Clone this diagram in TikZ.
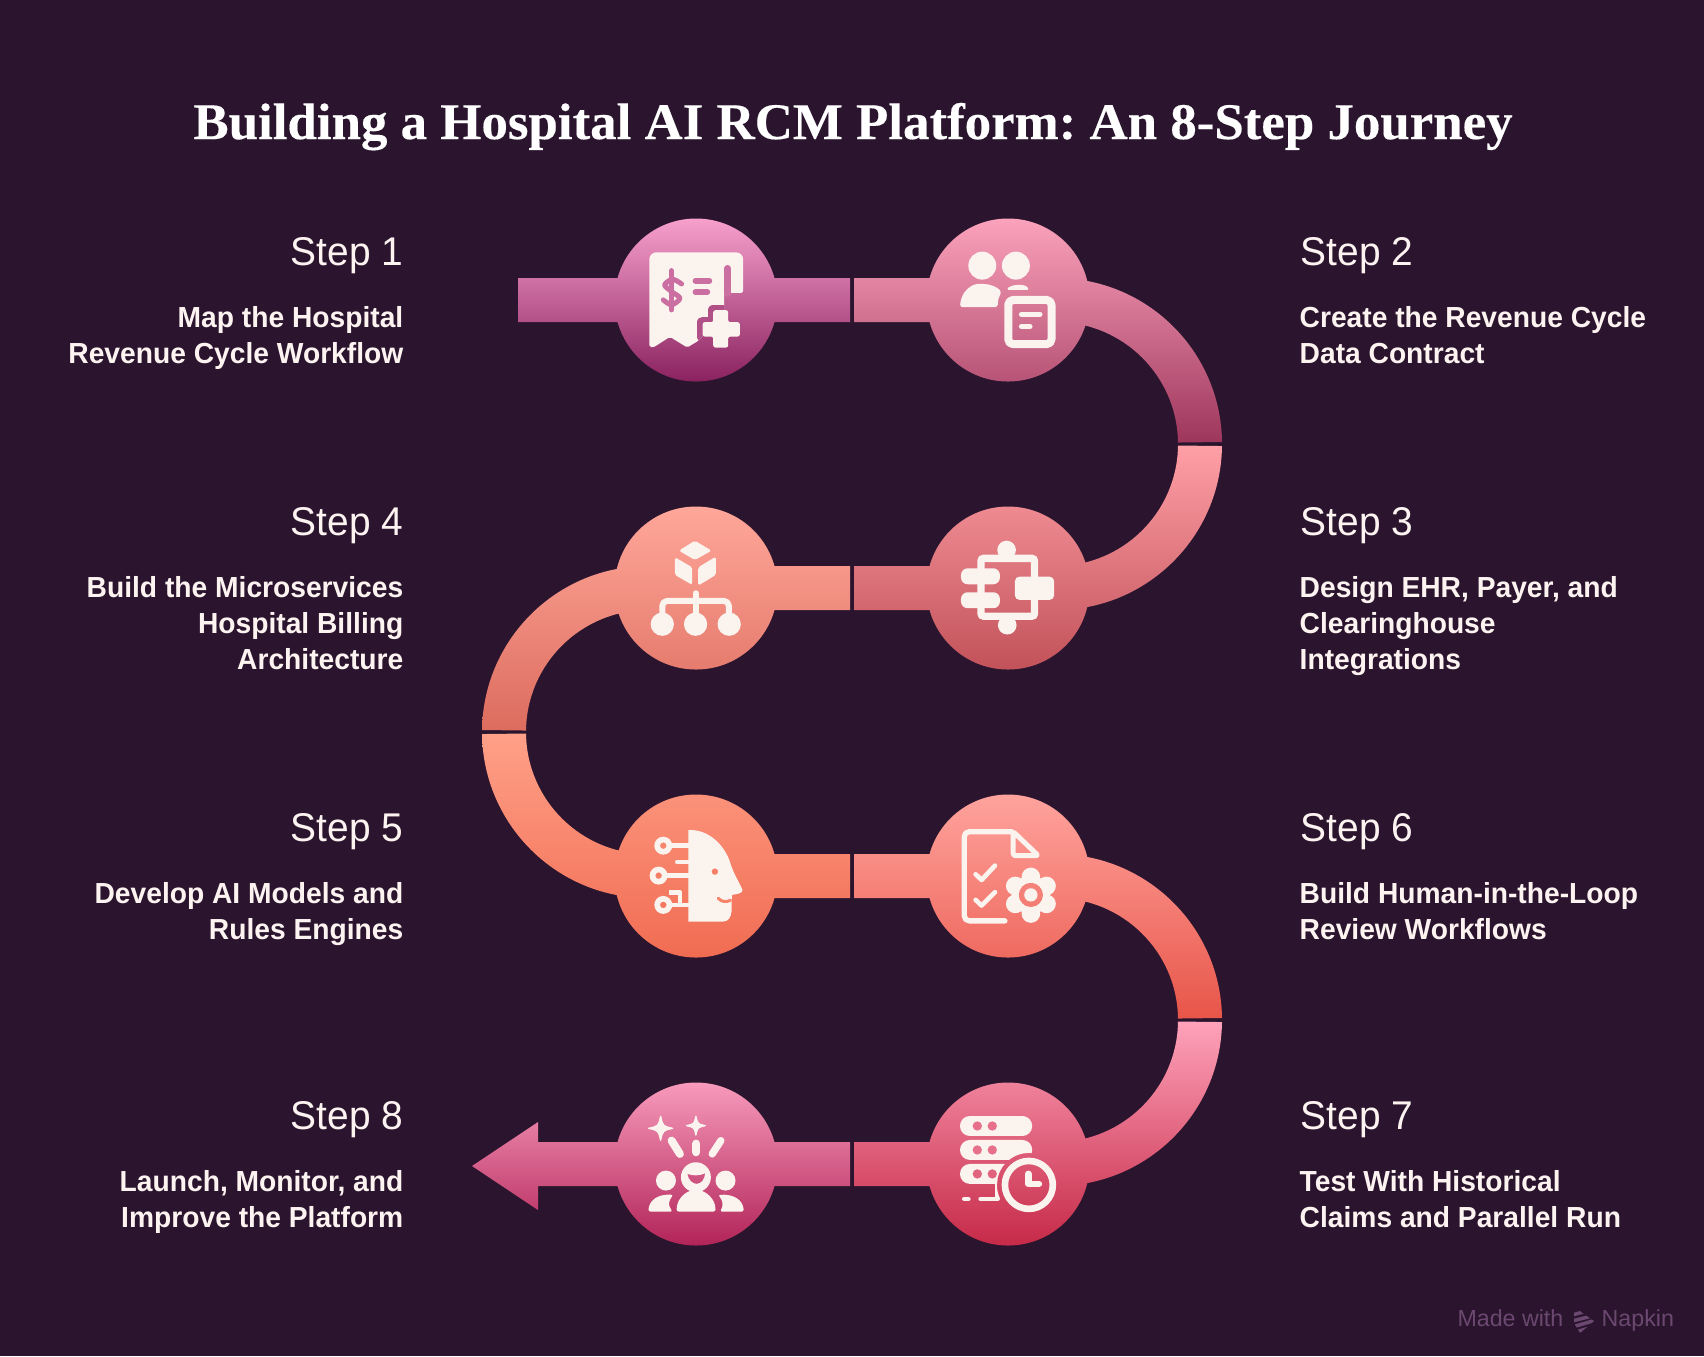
\documentclass[tikz,border=0pt]{standalone}
\usepackage{fontspec}
\usepackage{xcolor}
\usetikzlibrary{positioning}
\setmainfont{Liberation Sans}
\newfontfamily\titlefont[FakeStretch=1.03,BoldFeatures={FakeBold=0.3}]{Liberation Serif}
\newfontfamily\labelfont[FakeStretch=0.97]{Liberation Sans}
\newfontfamily\descfont[FakeStretch=0.972]{Liberation Sans}
\definecolor{pagebg}{HTML}{2B152E}
\definecolor{inkwhite}{HTML}{FDF3F1}
\definecolor{iconcream}{HTML}{FAF3EE}
\definecolor{brandink}{HTML}{6B4870}
\definecolor{oneTop}{HTML}{F7A0CC}\definecolor{oneBot}{HTML}{8A2260}
\definecolor{twoTop}{HTML}{FBA2BC}\definecolor{twoBot}{HTML}{9E365C}
\definecolor{threeTop}{HTML}{FF9FA6}\definecolor{threeBot}{HTML}{C2525A}
\definecolor{fourTop}{HTML}{FFA79A}\definecolor{fourBot}{HTML}{DC6C5E}
\definecolor{fiveTop}{HTML}{FFA088}\definecolor{fiveBot}{HTML}{F06C52}
\definecolor{sixTop}{HTML}{FFA39D}\definecolor{sixBot}{HTML}{E85549}
\definecolor{sevenTop}{HTML}{FFA2BA}\definecolor{sevenBot}{HTML}{C62A48}
\definecolor{eightTop}{HTML}{F79ABB}\definecolor{eightBot}{HTML}{B22458}
% path pieces, all wound the same way
\newcommand{\hubdisc}[2]{({#1+81.5},#2) arc[start angle=0,end angle=360,radius=81.5]}
\newcommand{\hubbar}[3]{(#1,{#3-22}) -- (#2,{#3-22}) -- (#2,{#3+22}) -- (#1,{#3+22}) -- cycle}
\newcommand{\hubsweep}[4]{({#1+166*cos(#3)},{#2+166*sin(#3)}) arc[start angle=#3,end angle=#4,radius=166] -- ({#1+122*cos(#4)},{#2+122*sin(#4)}) arc[start angle=#4,end angle=#3,radius=122] -- cycle}
\newcommand{\sparkle}[3]{(#1,{#2-#3}) .. controls ({#1+.18*#3},{#2-.18*#3}) .. ({#1+#3},#2) .. controls ({#1+.18*#3},{#2+.18*#3}) .. (#1,{#2+#3}) .. controls ({#1-.18*#3},{#2+.18*#3}) .. ({#1-#3},#2) .. controls ({#1-.18*#3},{#2-.18*#3}) .. (#1,{#2-#3}) -- cycle}
\begin{document}
\frenchspacing
\begin{tikzpicture}[
        x=0.01cm, y=-0.01cm,
        titletext/.style={font=\titlefont\bfseries\fontsize{14.6}{17}\selectfont, text=white, inner sep=0pt, anchor=base},
        steplabel/.style={font=\labelfont\fontsize{11.4}{14}\selectfont, text=inkwhite, inner sep=0pt},
        stepdesc/.style={font=\descfont\bfseries\fontsize{8.25}{10.24}\selectfont, text=inkwhite, inner sep=0pt},
        leftside/.style={anchor=base east, align=right},
        rightside/.style={anchor=base west, align=left},
        iconview/.style 2 args={shift={(#1,#2)}, x=0.003333cm, y=-0.003333cm},
        iconline/.style={draw=iconcream, line width=#1*0.0948pt, line cap=round, line join=round},
        holeline/.style={draw=iconhole, line width=#1*0.0948pt, line cap=round, line join=round},
    ]
    \useasboundingbox (0,0) rectangle (1704,1356);
    \fill[pagebg] (0,0) rectangle (1704,1356);

    % Title
    \node[titletext] (heading) at (853,139) {Building a Hospital AI RCM Platform: An 8-Step Journey};

    % Path segments
    \shade[top color=oneTop, bottom color=oneBot] \hubdisc{696}{300} \hubbar{518}{850}{300};
    \shade[top color=twoTop, bottom color=twoBot] \hubdisc{1008}{300} \hubbar{854}{1056}{300} \hubsweep{1056}{444}{-90}{-0.7};
    \shade[top color=threeTop, bottom color=threeBot] \hubdisc{1008}{588} \hubbar{854}{1056}{588} \hubsweep{1056}{444}{0.7}{90};
    \shade[top color=fourTop, bottom color=fourBot] \hubdisc{696}{588} \hubbar{648}{850}{588} \hubsweep{648}{732}{180.7}{270};
    \shade[top color=fiveTop, bottom color=fiveBot] \hubdisc{696}{876} \hubbar{648}{850}{876} \hubsweep{648}{732}{90}{179.3};
    \shade[top color=sixTop, bottom color=sixBot] \hubdisc{1008}{876} \hubbar{854}{1056}{876} \hubsweep{1056}{1020}{-90}{-0.7};
    \shade[top color=sevenTop, bottom color=sevenBot] \hubdisc{1008}{1164} \hubbar{854}{1056}{1164} \hubsweep{1056}{1020}{0.7}{90};
    \shade[top color=eightTop, bottom color=eightBot] \hubdisc{696}{1164}
        (472,1166) -- (538,1122) -- (538,1142) -- (850,1142) -- (850,1186) -- (538,1186) -- (538,1210) -- cycle;

    % Icon 1: receipt with plus
    \begin{scope}[iconview={630}{235}]
        \path[fill=iconcream, rounded corners=0.5pt] (58,336) [rounded corners=2pt] -- (58,52) -- (340,52) [rounded corners=0.5pt] -- (340,174) -- (283,174) -- (283,240) -- (205,318) -- (172,338) -- (120,306) -- (70,338) -- cycle;
        \colorlet{iconhole}{oneTop!60!oneBot}
        \draw[holeline=20] (293,100) -- (293,176);
        \draw[holeline=15] (125,107) -- (125,225);
        \draw[holeline=15] plot[smooth] coordinates {(155,147) (128,133) (104,150) (125,170) (150,190) (125,210) (100,195)};
        \draw[holeline=18] (197,137) -- (238,137);
        \draw[holeline=18] (197,172) -- (232,172);
        \begin{scope}
            \clip (58,338) -- (58,52) -- (283,52) -- (283,240) -- (205,318) -- (172,338) -- cycle;
            \colorlet{iconhole}{oneTop!36!oneBot}
            \draw[holeline=34] (250,226) -- (295,226) -- (295,262) -- (330,262) -- (330,305) -- (295,305) -- (295,338) -- (250,338) -- (250,305) -- (218,305) -- (218,262) -- (250,262) -- cycle;
        \end{scope}
        \fill[iconcream, rounded corners=0.6pt] (250,226) -- (295,226) -- (295,262) -- (330,262) -- (330,305) -- (295,305) -- (295,338) -- (250,338) -- (250,305) -- (218,305) -- (218,262) -- (250,262) -- cycle;
    \end{scope}

    % Icon 2: people with document
    \begin{scope}[iconview={945}{235}]
        \fill[iconcream] (112,92) circle[radius=42] (213,92) circle[radius=42];
        \fill[iconcream, rounded corners=0.8pt] (45,217) .. controls (48,170) and (80,147) .. (108,147) .. controls (135,147) and (158,157) .. (170,172) -- (160,190) -- (158,217) -- cycle;
        \fill[iconcream, rounded corners=0.5pt] (185,165) .. controls (195,150) and (240,142) .. (253,165) -- cycle;
        \draw[iconline=24, rounded corners=1.4pt] (190,195) rectangle (320,328);
        \draw[iconline=16] (230,238) -- (285,238);
        \draw[iconline=16] (230,275) -- (255,275);
    \end{scope}

    % Icon 3: integration blocks
    \begin{scope}[iconview={945}{525}]
        \draw[iconcream, line width=2.1pt, rounded corners=0.8pt] (108,100) rectangle (269,274);
        \fill[iconcream] (185,75) circle[radius=28] (187,301) circle[radius=28];
        \fill[iconcream, rounded corners=1.9pt] (48,130) rectangle (165,178);
        \fill[iconcream, rounded corners=1.9pt] (48,202) rectangle (165,250);
        \fill[iconcream, rounded corners=1.3pt] (210,155) rectangle (328,225);
    \end{scope}

    % Icon 4: cube over tree
    \begin{scope}[iconview={630}{525}]
        \fill[iconcream, rounded corners=0.5pt] (195,47) -- (245,77) -- (195,105) -- (147,77) -- cycle;
        \fill[iconcream, rounded corners=0.5pt] (135,97) -- (187,127) -- (187,180) -- (135,150) -- cycle;
        \fill[iconcream, rounded corners=0.5pt] (258,95) -- (205,127) -- (205,182) -- (258,150) -- cycle;
        \draw[iconline=18] (197,205) -- (197,275);
        \draw[iconline=18, rounded corners=1.4pt] (97,275) -- (97,228) -- (297,228) -- (297,275);
        \fill[iconcream] (97,298) circle[radius=35] (197,298) circle[radius=35] (298,298) circle[radius=35];
    \end{scope}

    % Icon 5: head with circuit
    \begin{scope}[iconview={630}{815}]
        \fill[iconcream, even odd rule] (175,45) .. controls (240,42) and (285,95) .. (300,140) .. controls (310,175) and (330,205) .. (338,225) .. controls (340,235) and (320,238) .. (306,240) -- (305,290) .. controls (303,308) and (295,320) .. (280,320) -- (175,320) -- cycle (255,170) circle[radius=10];
        \colorlet{iconhole}{fiveTop!45!fiveBot}
        \draw[holeline=9] (265,250) .. controls (275,262) and (290,262) .. (302,256);
        \fill[iconcream, even odd rule] (100,92) circle[radius=27] (100,92) circle[radius=10];
        \fill[iconcream, even odd rule] (86,182) circle[radius=27] (86,182) circle[radius=10];
        \fill[iconcream, even odd rule] (100,270) circle[radius=27] (100,270) circle[radius=10];
        \draw[iconline=14, line cap=butt] (125,92) -- (178,92);
        \draw[iconline=14, line cap=butt] (110,182) -- (178,182);
        \draw[iconline=14, line cap=butt] (125,270) -- (178,270);
        \draw[iconline=14] (142,141) -- (178,141);
        \draw[iconline=14, line cap=butt] (118,232) -- (150,232) -- (150,264);
    \end{scope}

    % Icon 6: checklist with gear
    \begin{scope}[iconview={945}{815}]
        \draw[iconline=16, rounded corners=1.4pt] (180,318) -- (58,318) -- (58,50) -- (200,50);
        \draw[iconline=15, rounded corners=0.6pt] (205,50) -- (205,122) -- (280,122) -- cycle;
        \draw[iconline=14] (92,178) -- (110,195) -- (150,152);
        \draw[iconline=14] (92,255) -- (110,272) -- (150,232);
        \begin{scope}[even odd rule]
            \clip (-100,-100) rectangle (500,500) (258,240) circle[radius=37];
            \fill[iconcream, nonzero rule] (258,240) circle[radius=58];
            \fill[iconcream, nonzero rule] (258,186) circle[radius=28] (305,213) circle[radius=28] (305,267) circle[radius=28] (258,296) circle[radius=28] (211,267) circle[radius=28] (211,213) circle[radius=28];
        \end{scope}
        \fill[iconcream] (258,240) circle[radius=20];
    \end{scope}

    % Icon 7: server with clock
    \begin{scope}[iconview={945}{1100}]
        \begin{scope}[even odd rule]
            \clip (-100,-100) rectangle (500,500) (252,255) circle[radius=96];
            \fill[iconcream, rounded corners=2.8pt] (45,48) rectangle (262,108);
            \fill[iconcream, rounded corners=2.8pt] (45,120) rectangle (262,180);
            \fill[iconcream, rounded corners=2.8pt] (45,192) rectangle (262,252);
            \draw[iconline=14] (107,297) -- (158,297) -- (158,245);
        \end{scope}
        \draw[iconline=14] (58,297) -- (70,297);
        \colorlet{iconhole}{sevenTop!58!sevenBot}
        \fill[iconhole] (97,78) circle[radius=14] (142,78) circle[radius=14] (97,150) circle[radius=14] (142,150) circle[radius=14];
        \colorlet{iconhole}{sevenTop!48!sevenBot}
        \fill[iconhole] (97,222) circle[radius=14] (142,222) circle[radius=14];
        \fill[iconcream, even odd rule] (252,255) circle[radius=82] (252,255) circle[radius=62];
        \draw[iconline=20] (250,222) -- (250,252) -- (282,252);
    \end{scope}

    % Icon 8: cheering team
    \begin{scope}[iconview={630}{1100}]
        \fill[iconcream] \sparkle{92}{85}{38};
        \draw[iconline=4] \sparkle{92}{85}{36};
        \fill[iconcream] \sparkle{198}{77}{30};
        \draw[iconline=4] \sparkle{198}{77}{28};
        \draw[iconline=24] (125,122) -- (150,162);
        \draw[iconline=24] (199,131) -- (199,157);
        \draw[iconline=22] (273,122) -- (247,162);
        \fill[iconcream, even odd rule] (198,232) circle[radius=45] (172,222) .. controls (190,228) and (208,228) .. (226,220) .. controls (222,262) and (180,262) .. (172,222) -- cycle;
        \fill[iconcream, rounded corners=0.6pt] (140,335) .. controls (140,295) and (170,272) .. (198,270) .. controls (226,272) and (257,295) .. (257,335) -- cycle;
        \fill[iconcream] (108,242) circle[radius=30] (287,242) circle[radius=30];
        \fill[iconcream, rounded corners=0.6pt] (55,335) .. controls (58,300) and (85,282) .. (130,285) .. controls (118,300) and (112,315) .. (128,335) -- cycle;
        \fill[iconcream, rounded corners=0.6pt] (342,335) .. controls (339,300) and (312,282) .. (265,285) .. controls (277,300) and (283,315) .. (270,335) -- cycle;
    \end{scope}

    % Left labels
    \node[steplabel, leftside] (labelone) at (404,265) {Step 1};
    \node[stepdesc, leftside] (descone) at (404,363) {Map the Hospital\\Revenue Cycle Workflow};
    \node[steplabel, leftside] (labelfour) at (404,535) {Step 4};
    \node[stepdesc, leftside] (descfour) at (404,669) {Build the Microservices\\Hospital Billing\\Architecture};
    \node[steplabel, leftside] (labelfive) at (404,841) {Step 5};
    \node[stepdesc, leftside] (descfive) at (404,939) {Develop AI Models and\\Rules Engines};
    \node[steplabel, leftside] (labeleight) at (404,1129) {Step 8};
    \node[stepdesc, leftside] (desceight) at (404,1227) {Launch, Monitor, and\\Improve the Platform};

    % Right labels
    \node[steplabel, rightside] (labeltwo) at (1300,265) {Step 2};
    \node[stepdesc, rightside] (desctwo) at (1299,363) {Create the Revenue Cycle\\Data Contract};
    \node[steplabel, rightside] (labelthree) at (1300,535) {Step 3};
    \node[stepdesc, rightside] (descthree) at (1299,669) {Design EHR, Payer, and\\Clearinghouse\\Integrations};
    \node[steplabel, rightside] (labelsix) at (1300,841) {Step 6};
    \node[stepdesc, rightside] (descsix) at (1299,939) {Build Human-in-the-Loop\\Review Workflows};
    \node[steplabel, rightside] (labelseven) at (1300,1129) {Step 7};
    \node[stepdesc, rightside] (descseven) at (1299,1227) {Test With Historical\\Claims and Parallel Run};

    % Brand mark
    \node[font=\fontsize{6.6}{8}\selectfont, text=brandink, inner sep=0pt, anchor=base east] (brandleft) at (1564,1326) {Made with};
    \node[font=\fontsize{6.6}{8}\selectfont, text=brandink, inner sep=0pt, anchor=base west] (brandright) at (1601,1326) {Napkin};
    \begin{scope}
        \clip (1574,1307) -- (1594,1321) -- (1580,1333) -- (1574,1323) -- cycle;
        \draw[brandink, line width=1pt] (1572,1315) -- (1590,1310) (1572,1321) -- (1596,1315) (1572,1327) -- (1596,1320) (1572,1333) -- (1596,1326);
    \end{scope}
\end{tikzpicture}
\end{document}
